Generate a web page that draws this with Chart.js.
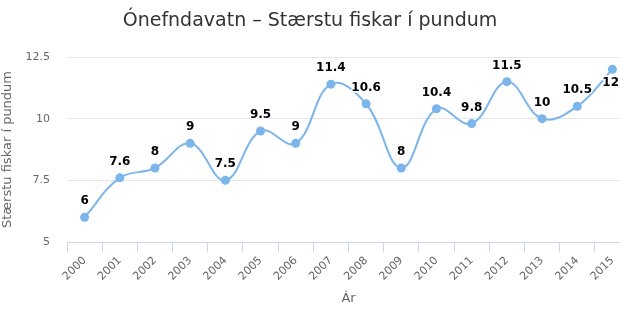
<!DOCTYPE html>
<html>
<head>
<meta charset="utf-8">
<script src="https://cdn.jsdelivr.net/npm/chart.js@4/dist/chart.umd.min.js"></script>
<style>
  html, body { margin: 0; padding: 0; background: #fff; overflow: hidden; }
  #wrap { width: 640px; height: 330px; }
</style>
</head>
<body>
<div id="wrap"><canvas id="mycanvas" width="640" height="330"></canvas></div>
<script>
var years = ["2000","2001","2002","2003","2004","2005","2006","2007","2008","2009","2010","2011","2012","2013","2014","2015"];
var fish = [6, 7.6, 8, 9, 7.5, 9.5, 9, 11.4, 10.6, 8, 10.4, 9.8, 11.5, 10, 10.5, 12];
var yTicks = [5, 7.5, 10, 12.5];

var chartTitle = "Ónefndavatn – Stærstu fiskar í pundum";
var yTitle = "Stærstu fiskar í pundum";
var xTitle = "Ár";

// title is centred on the 620px page, not on the wider canvas
var titlePlugin = {
  id: 'pageTitle',
  afterDraw: function(chart) {
    var ctx = chart.ctx;
    ctx.save();
    ctx.font = '19px "DejaVu Sans"';
    ctx.fillStyle = '#333333';
    ctx.textAlign = 'center';
    ctx.textBaseline = 'middle';
    ctx.fillText(chartTitle, 310, 21);
    ctx.restore();
  }
};

// value labels above each point
var valueLabels = {
  id: 'valueLabels',
  afterDatasetsDraw: function(chart) {
    var ctx = chart.ctx;
    var meta = chart.getDatasetMeta(0);
    ctx.save();
    ctx.font = 'bold 12px "DejaVu Sans"';
    ctx.textAlign = 'center';
    ctx.textBaseline = 'middle';
    ctx.lineJoin = 'round';
    meta.data.forEach(function(pt, i) {
      var txt = String(fish[i]);
      var w = ctx.measureText(txt).width;
      var x = pt.x;
      var y = pt.y - 16;
      if (y - 6 < chart.chartArea.top) y = pt.y + 14;
      if (x + w / 2 > 619) x = 619 - w / 2;
      ctx.strokeStyle = '#ffffff';
      ctx.lineWidth = 3;
      ctx.strokeText(txt, x, y);
      ctx.fillStyle = '#000000';
      ctx.fillText(txt, x, y);
    });
    ctx.restore();
  }
};

var ctx = document.getElementById('mycanvas');
var chart = new Chart(ctx, {
  type: 'line',
  data: {
    labels: years,
    datasets: [{
      label: yTitle,
      data: fish,
      borderColor: '#7cb5ec',
      backgroundColor: '#7cb5ec',
      borderWidth: 2,
      pointRadius: 4.5,
      pointBorderWidth: 0,
      pointHoverRadius: 4.5,
      tension: 0.4,
      fill: false
    }]
  },
  options: {
    responsive: false,
    animation: false,
    layout: { padding: { top: 57, right: 10, bottom: 20, left: 0 } },
    plugins: {
      legend: { display: false },
      title: { display: false },
      tooltip: { enabled: false }
    },
    scales: {
      x: {
        offset: true,
        grid: {
          offset: true,
          drawOnChartArea: false,
          drawTicks: true,
          tickLength: 10,
          color: '#ccd6eb'
        },
        border: { color: '#ccd6eb' },
        ticks: {
          color: '#666666',
          font: { family: 'DejaVu Sans', size: 11 },
          maxRotation: 45,
          minRotation: 45,
          autoSkip: false,
          padding: 2
        },
        title: {
          display: true,
          text: xTitle,
          color: '#666666',
          font: { family: 'DejaVu Sans', size: 13 },
          padding: { top: 0, bottom: 4 }
        },
        afterFit: function(scale) { scale.height = 68; }
      },
      y: {
        min: 5,
        max: 12.5,
        afterBuildTicks: function(scale) {
          scale.ticks = yTicks.map(function(v) { return { value: v }; });
        },
        grid: { color: '#e6e6e6', drawTicks: false },
        border: { display: false },
        ticks: {
          color: '#666666',
          font: { family: 'DejaVu Sans', size: 11 },
          padding: 17
        },
        title: {
          display: true,
          text: yTitle,
          color: '#666666',
          font: { family: 'DejaVu Sans', size: 13 },
          padding: { top: 0, bottom: 0 }
        },
        afterFit: function(scale) { scale.width = 67; }
      }
    }
  },
  plugins: [titlePlugin, valueLabels]
});
</script>
</body>
</html>
